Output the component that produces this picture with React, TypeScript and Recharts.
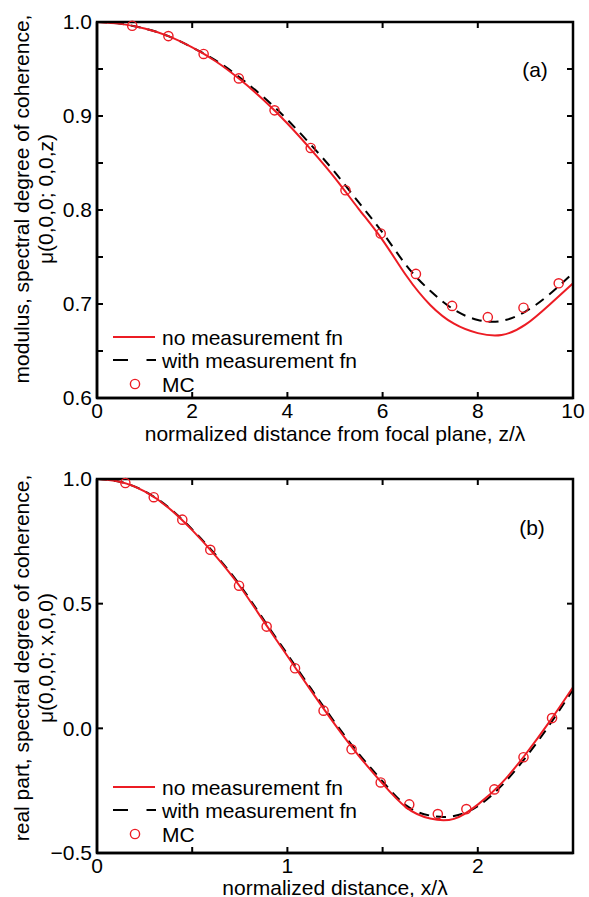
import { ComposedChart, Line, Scatter, XAxis, YAxis, Legend } from 'recharts';

const RED = '#ec1c24';
const FONT = '"Liberation Sans", Arial, Helvetica, sans-serif';

// panel (a): modulus vs z/lambda
const zTop = [0, 0.5, 1, 1.5, 2, 2.5, 3, 3.5, 4, 4.5, 5, 5.5, 6, 6.5, 7, 7.5, 8, 8.5, 9, 9.5, 10];
const redTop = [1.0, 0.998, 0.993, 0.985, 0.973, 0.958, 0.939, 0.917, 0.892, 0.864, 0.834, 0.801, 0.768, 0.73, 0.699, 0.679, 0.669, 0.667, 0.678, 0.699, 0.722];
const blackTop = [1.0, 0.998, 0.993, 0.985, 0.973, 0.959, 0.941, 0.92, 0.896, 0.869, 0.84, 0.808, 0.776, 0.741, 0.714, 0.694, 0.683, 0.682, 0.692, 0.71, 0.733];
const mcTopZ = [0.74, 1.5, 2.24, 2.98, 3.73, 4.49, 5.22, 5.96, 6.7, 7.46, 8.21, 8.96, 9.7];
const mcTopV = [0.996, 0.985, 0.966, 0.94, 0.906, 0.866, 0.821, 0.775, 0.732, 0.698, 0.686, 0.696, 0.722];
const xTicksTop = [0, 2, 4, 6, 8, 10];
const yTicksTop = [0.6, 0.65, 0.7, 0.75, 0.8, 0.85, 0.9, 0.95, 1.0];

// panel (b): real part vs x/lambda
const xBot = [0, 0.125, 0.25, 0.375, 0.5, 0.625, 0.75, 0.875, 1, 1.125, 1.25, 1.375, 1.5, 1.625, 1.75, 1.875, 2, 2.125, 2.25, 2.375, 2.5];
const redBot = [1.0, 0.988, 0.95, 0.885, 0.795, 0.69, 0.57, 0.43, 0.29, 0.15, 0.015, -0.11, -0.222, -0.318, -0.362, -0.363, -0.306, -0.22, -0.105, 0.025, 0.165];
const blackBot = [1.0, 0.988, 0.951, 0.887, 0.798, 0.694, 0.575, 0.436, 0.297, 0.158, 0.023, -0.102, -0.213, -0.31, -0.35, -0.352, -0.312, -0.23, -0.118, 0.012, 0.155];
const mcBotX = [0.149, 0.298, 0.448, 0.595, 0.746, 0.891, 1.04, 1.19, 1.337, 1.49, 1.64, 1.79, 1.94, 2.087, 2.24, 2.39];
const mcBotV = [0.984, 0.927, 0.837, 0.716, 0.572, 0.408, 0.241, 0.071, -0.084, -0.217, -0.305, -0.344, -0.324, -0.245, -0.116, 0.041];
const xTicksBot = [0, 0.5, 1, 1.5, 2, 2.5];
const yTicksBot = [-0.5, 0, 0.5, 1.0];

const legendLabels = ['no measurement fn', 'with measurement fn', 'MC'];

const topCurve = zTop.map((x, i) => ({ x, red: redTop[i], black: blackTop[i] }));
const topMC = mcTopZ.map((x, i) => ({ x, y: mcTopV[i] }));
const botCurve = xBot.map((x, i) => ({ x, red: redBot[i], black: blackBot[i] }));
const botMC = mcBotX.map((x, i) => ({ x, y: mcBotV[i] }));

const isWhole = (v: number, step: number) => Math.abs(v / step - Math.round(v / step)) < 1e-6;
const fmtY = (v: number) => (isWhole(v, 0.1) ? (v < 0 ? '\u2212' + Math.abs(v).toFixed(1) : v.toFixed(1)) : '');
const fmtX = (v: number) => (isWhole(v, 1) ? String(v) : '');

const textStyle = { fontFamily: FONT, fontSize: 21, fill: '#000' };
const TICK = 6;
const CHART_W = 589;
const MARGIN_R = 16;
const AXIS_W = 97;

const McDot = (p: any) => (
  <circle cx={p.cx} cy={p.cy} r={4.6} fill="none" stroke={RED} strokeWidth={1.4} />
);

const LegendBox = () => (
  <svg width={260} height={72} style={{ display: 'block' }}>
    <line x1={8} x2={50} y1={12} y2={12} stroke={RED} strokeWidth={2} />
    <text x={57} y={19.5} style={textStyle}>{legendLabels[0]}</text>
    <line x1={8} x2={51} y1={35} y2={35} stroke="#000" strokeWidth={2} strokeDasharray="15 18.5" />
    <text x={57} y={42.5} style={textStyle}>{legendLabels[1]}</text>
    <circle cx={30} cy={59} r={4.6} fill="none" stroke={RED} strokeWidth={1.4} />
    <text x={57} y={66.5} style={textStyle}>{legendLabels[2]}</text>
  </svg>
);

type PanelProps = {
  height: number;
  top: number;
  xHeight: number;
  curve: any[];
  mc: any[];
  xDomain: [number, number];
  xTicks: number[];
  yDomain: [number, number];
  yTicks: number[];
  xTitle: string;
  xTitleDy: number;
  yTitle: [string, string];
  yTitleCy: number;
  tag: string;
  tagX: number;
  tagY: number;
};

function Panel(p: PanelProps) {
  const axisLine = { stroke: '#000', strokeWidth: 2.5 };
  const tickLine = { stroke: '#000', strokeWidth: 2 };
  const [x0, x1] = p.xDomain;
  const [y0, y1] = p.yDomain;

  // y title, plus the closed frame with inward top/right ticks, placed from the y axis box
  const yLabel = (lp: any) => {
    const vb = lp.viewBox || {};
    const L = (vb.x ?? 0) + (vb.width ?? AXIS_W);
    const T = vb.y ?? p.top;
    const H = vb.height ?? p.height - p.top - p.xHeight;
    const W = CHART_W - MARGIN_R - L;
    const R = L + W;
    const B = T + H;
    const sx = (t: number) => L + ((t - x0) / (x1 - x0)) * W;
    const sy = (t: number) => B - ((t - y0) / (y1 - y0)) * H;
    return (
      <g>
        <text transform={`translate(29, ${p.yTitleCy}) rotate(-90)`} textAnchor="middle" style={textStyle}>
          <tspan x={0} y={0}>{p.yTitle[0]}</tspan>
          <tspan x={0} y={24}>{p.yTitle[1]}</tspan>
        </text>
        <rect x={L} y={T} width={W} height={H} fill="none" style={{ stroke: '#000', strokeWidth: 2.5 }} />
        {p.xTicks.slice(1, -1).map((t) => (
          <rect key={'tx' + t} x={sx(t) - 1} y={T} width={2} height={TICK} style={{ fill: '#000' }} />
        ))}
        {p.yTicks.slice(1, -1).map((t) => (
          <rect key={'ty' + t} x={R - TICK} y={sy(t) - 1} width={TICK} height={2} style={{ fill: '#000' }} />
        ))}
        <text x={p.tagX} y={p.tagY} textAnchor="middle" style={textStyle}>
          {p.tag}
        </text>
      </g>
    );
  };

  const xLabel = (lp: any) => {
    const vb = lp.viewBox;
    return (
      <text x={vb.x + vb.width / 2} y={vb.y + p.xTitleDy} textAnchor="middle" style={textStyle}>
        {p.xTitle}
      </text>
    );
  };

  return (
    <ComposedChart width={CHART_W} height={p.height} data={p.curve} margin={{ top: p.top, right: MARGIN_R, bottom: 0, left: 0 }}>
      <XAxis
        type="number"
        dataKey="x"
        domain={p.xDomain}
        ticks={p.xTicks}
        height={p.xHeight}
        tickFormatter={fmtX}
        tick={textStyle}
        tickSize={-TICK}
        tickMargin={11}
        axisLine={axisLine}
        tickLine={tickLine}
        interval={0}
        label={{ content: xLabel }}
      />
      <YAxis
        type="number"
        domain={p.yDomain}
        ticks={p.yTicks}
        width={AXIS_W}
        tickFormatter={fmtY}
        tick={textStyle}
        tickSize={-TICK}
        tickMargin={11}
        axisLine={axisLine}
        tickLine={tickLine}
        interval={0}
        label={{ content: yLabel }}
      />
      <Line
        type="natural"
        dataKey="black"
        stroke="#000"
        strokeWidth={2}
        strokeDasharray="10 7"
        dot={false}
        isAnimationActive={false}
      />
      <Line type="natural" dataKey="red" stroke={RED} strokeWidth={2} dot={false} isAnimationActive={false} />
      <Scatter data={p.mc} dataKey="y" shape={McDot} isAnimationActive={false} />
      <Legend
        layout="vertical"
        align="center"
        verticalAlign="middle"
        content={() => <LegendBox />}
        wrapperStyle={{ left: 105, top: 325, width: 260, height: 72 }}
      />
    </ComposedChart>
  );
}

export default function App() {
  return (
    <div style={{ width: CHART_W, background: '#fff' }}>
      <style>{'body{margin:0;background:#fff}'}</style>
      <Panel
        height={450}
        top={22}
        xHeight={52}
        curve={topCurve}
        mc={topMC}
        xDomain={[0, 10]}
        xTicks={xTicksTop}
        yDomain={[0.6, 1.0]}
        yTicks={yTicksTop}
        xTitle="normalized distance from focal plane, z/λ"
        xTitleDy={42.5}
        yTitle={['modulus, spectral degree of coherence,', 'μ(0,0,0; 0,0,z)']}
        yTitleCy={199}
        tag="(a)"
        tagX={535}
        tagY={77}
      />
      <Panel
        height={447}
        top={29}
        xHeight={44}
        curve={botCurve}
        mc={botMC}
        xDomain={[0, 2.5]}
        xTicks={xTicksBot}
        yDomain={[-0.5, 1.0]}
        yTicks={yTicksBot}
        xTitle="normalized distance, x/λ"
        xTitleDy={41.5}
        yTitle={['real part, spectral degree of coherence,', 'μ(0,0,0; x,0,0)']}
        yTitleCy={208}
        tag="(b)"
        tagX={532}
        tagY={85}
      />
    </div>
  );
}
